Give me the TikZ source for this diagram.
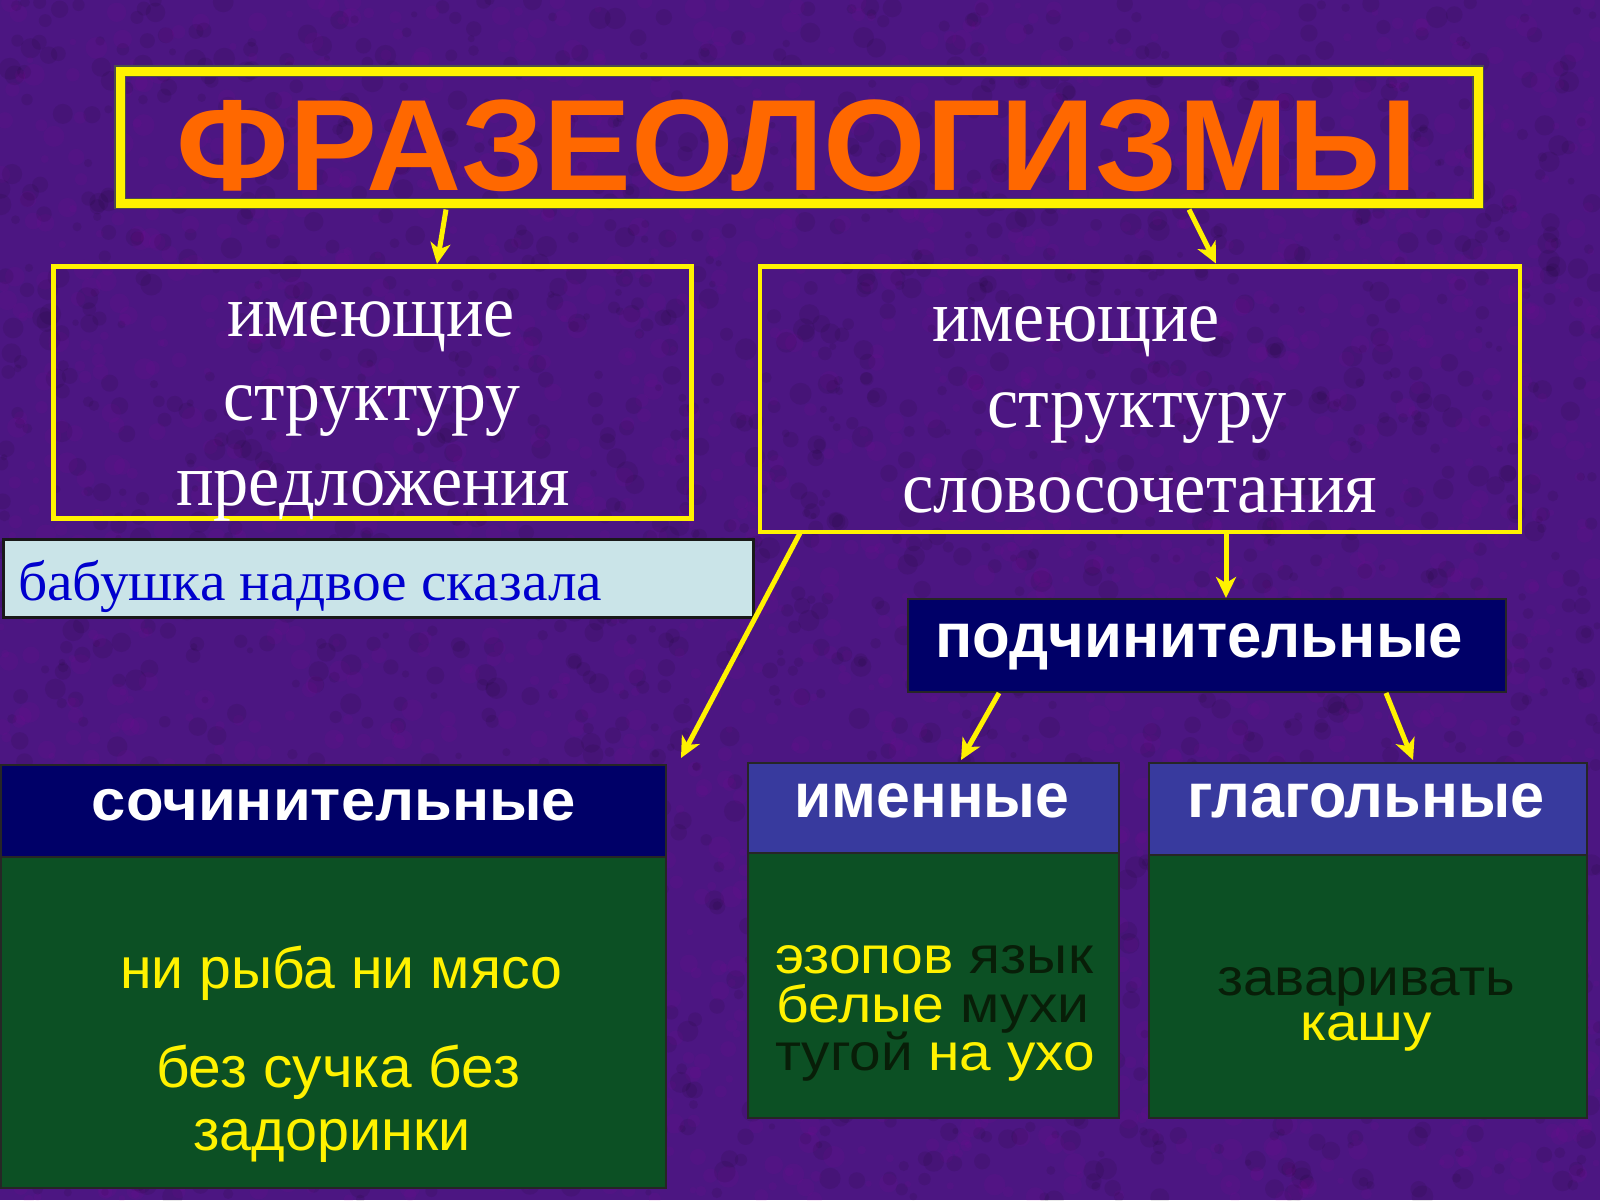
\documentclass[tikz,border=0pt]{standalone}
\usepackage{graphicx}
\usepackage{fontspec}
\setmainfont{Liberation Serif}
\newfontfamily\arialf{Liberation Sans}
\usetikzlibrary{arrows.meta,calc}
\newlength\fitwd
\newcommand\fitto[2]{\settowidth\fitwd{#2}\pgfmathsetmacro\fitfac{#1/\fitwd}\scalebox{\fitfac}[1]{#2}}
\definecolor{bgpurple}{RGB}{76,22,130}
\definecolor{yel}{RGB}{255,242,0}
\definecolor{ttlorange}{RGB}{255,104,0}
\definecolor{navyc}{RGB}{0,0,104}
\definecolor{midblue}{RGB}{56,58,158}
\definecolor{greenc}{RGB}{12,80,36}
\definecolor{paleblue}{RGB}{202,228,232}
\definecolor{darktxt}{RGB}{8,30,8}
\definecolor{bluetxt}{RGB}{0,0,205}
\begin{document}
\begin{tikzpicture}[x=1pt,y=-1pt,
  box/.style={rectangle, inner sep=0pt, outer sep=0pt, anchor=north west},
  ybox/.style={box, draw=yel, line width=4.5pt},
  darkbox/.style={box, draw=black!85, line width=2pt},
  arr/.style={draw=yel, line width=5pt, -{Stealth[length=21pt,width=20pt,inset=6pt]}},
  serif/.style={anchor=base, text=white, font=\fontsize{74}{74}\selectfont, inner sep=0pt},
  head/.style={anchor=base, text=white, font=\arialf\bfseries\fontsize{63}{63}\selectfont, inner sep=0pt},
  ytxt/.style={anchor=base, text=yel, font=\arialf\fontsize{58}{58}\selectfont, inner sep=0pt},
  ntxt/.style={anchor=base, text=yel, font=\arialf\fontsize{52}{52}\selectfont, inner sep=0pt}
]
\useasboundingbox (0,0) rectangle (1600,1200);
\fill[bgpurple] (0,0) rectangle (1600,1200);
\pgfmathsetseed{42}
\foreach \i in {1,...,2200}{
  \pgfmathsetmacro\xx{rnd*1600}\pgfmathsetmacro\yy{rnd*1200}\pgfmathsetmacro\rr{3+rnd*8}
  \fill[black,opacity=0.08] (\xx,\yy) circle (\rr);
}
\foreach \i in {1,...,2200}{
  \pgfmathsetmacro\xx{rnd*1600}\pgfmathsetmacro\yy{rnd*1200}\pgfmathsetmacro\rr{3+rnd*8}
  \fill[violet!70!magenta,opacity=0.07] (\xx,\yy) circle (\rr);
}

% title
\node[box, draw=black!70, double=yel, double distance=9pt, line width=1.2pt,
  minimum width=1358pt, minimum height=132.5pt] (title) at (120,71) {};
\node[anchor=base, inner sep=0pt, text=ttlorange, font=\arialf\bfseries\fontsize{130}{130}\selectfont] (ttltxt) at (797,190) {\fitto{1240}{ФРАЗЕОЛОГИЗМЫ}};

% upper boxes
\node[ybox, minimum width=638pt, minimum height=252pt] (lbox) at (53.5,266.5) {};
\node[serif] (l1) at (371,336) {\fitto{288}{имеющие}};
\node[serif] (l2) at (372,420) {\fitto{297}{структуру}};
\node[serif] (l3) at (373,505) {\fitto{394}{предложения}};

\node[ybox, minimum width=760pt, minimum height=265.5pt] (rbox) at (760,266.5) {};
\node[serif] (r1) at (1076,341) {\fitto{288}{имеющие}};
\node[serif] (r2) at (1137,427) {\fitto{299}{структуру}};
\node[serif] (r3) at (1140,512) {\fitto{475}{словосочетания}};

% example box
\node[box, fill=paleblue, draw=black!90, line width=3pt, minimum width=750pt, minimum height=78pt] (ex) at (3.5,539.5) {};
\node[serif, anchor=base west, text=bluetxt, font=\fontsize{56}{56}\selectfont] (extxt) at (18,600) {\fitto{584}{бабушка надвое сказала}};

% подчинительные
\node[darkbox, fill=navyc, minimum width=598pt, minimum height=93pt] (podch) at (908,599) {};
\node[head] (podchtxt) at (1199,657) {\fitto{528}{подчинительные}};

% сочинительные
\node[darkbox, fill=navyc, minimum width=665pt, minimum height=92pt] (soch) at (1,765) {};
\node[darkbox, fill=greenc, minimum width=665pt, minimum height=331pt] (sochg) at (1,857) {};
\node[head, font=\arialf\bfseries\fontsize{58}{58}\selectfont] (sochtxt) at (334,820) {\fitto{484}{сочинительные}};
\node[ytxt] (s1) at (341,988) {\fitto{442}{ни рыба ни мясо}};
\node[ytxt] (s2) at (338,1087) {\fitto{364}{без сучка без}};
\node[ytxt] (s3) at (332,1150) {\fitto{277}{задоринки}};

% именные
\node[darkbox, fill=midblue, minimum width=371pt, minimum height=90pt] (imen) at (748,763) {};
\node[darkbox, fill=greenc, minimum width=371pt, minimum height=265pt] (imeng) at (748,853) {};
\node[head] (imentxt) at (932,817) {\fitto{275}{именные}};
\node[ntxt] (i1) at (934,973) {\fitto{318}{эзопов \textcolor{darktxt}{язык}}};
\node[ntxt] (i2) at (933,1022) {\fitto{313}{белые \textcolor{darktxt}{мухи}}};
\node[ntxt] (i3) at (935,1070) {\fitto{320}{\textcolor{darktxt}{тугой} на ухо}};

% глагольные
\node[darkbox, fill=midblue, minimum width=438pt, minimum height=92pt] (glag) at (1149,763) {};
\node[darkbox, fill=greenc, minimum width=438pt, minimum height=263pt] (glagg) at (1149,855) {};
\node[head] (glagtxt) at (1366,817) {\fitto{357}{глагольные}};
\node[ntxt, text=darktxt] (g1) at (1366,995) {\fitto{298}{заваривать}};
\node[ntxt] (g2) at (1366,1040) {\fitto{132}{кашу}};

% connectors
\coordinate (sochtip) at ($(soch.north east)+(15,-7)$);
\draw[arr] ($(title.south west)+(326,6)$) -- ($(lbox.north west)+(383.5,-2.5)$);
\draw[arr] ($(title.south west)+(1069,6)$) -- ($(rbox.north west)+(456,-3)$);
\draw[arr] ($(rbox.south west)+(466,2)$) -- ($(podch.north west)+(318,-1)$);
\draw[arr] ($(podch.south west)+(91,1)$) -- ($(imen.north west)+(213,-3)$);
\draw[arr] ($(podch.south west)+(478,1)$) -- ($(glag.north west)+(264,-3)$);
\draw[arr] ($(rbox.south west)+(40,1)$) -- (sochtip);
\end{tikzpicture}
\end{document}
